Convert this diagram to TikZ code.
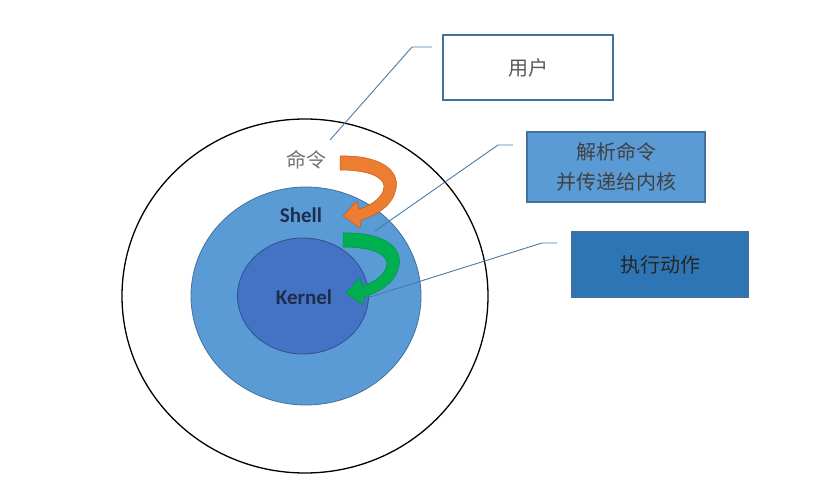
\documentclass[tikz,border=0pt]{standalone}
\usepackage{fontspec}
\usetikzlibrary{shapes.geometric}
\newfontfamily\cjk{Noto Sans CJK SC}
\newfontfamily\latin{Carlito}
\definecolor{shellblue}{HTML}{5B9BD5}
\definecolor{kernblue}{HTML}{4472C4}
\definecolor{edgeblue}{HTML}{41719C}
\definecolor{kedge}{HTML}{2F528F}
\definecolor{actblue}{HTML}{2E75B6}
\definecolor{callout}{HTML}{4A7BA6}
\definecolor{orangeA}{HTML}{ED7D31}
\definecolor{orangeB}{HTML}{C55A11}
\definecolor{greenA}{HTML}{00B050}
\definecolor{greenB}{HTML}{00944A}
\definecolor{navytext}{HTML}{1F2D4D}
\begin{document}
\begin{tikzpicture}[x=1pt,y=-1pt,
  boxstyle/.style={draw=edgeblue,line width=1.2pt,minimum width=170pt,inner sep=0pt,align=center,font=\cjk\fontsize{20}{30}\selectfont},
  layerlabel/.style={font=\latin\bfseries\fontsize{21}{22}\selectfont,text=navytext},
  calloutline/.style={draw=callout,line width=0.9pt},
  arrowshape/.pic={
    \path[pic actions]
      (340,156) .. controls (380,155) and (400,170) .. (396,189)
      .. controls (393,204) and (380,214) .. (361,220)
      -- (360,228) -- (343,216) -- (357,201) -- (359,209)
      .. controls (373,205) and (384,196) .. (384,186)
      .. controls (383,176) and (366,170) .. (340,170) -- cycle;
  }]
\useasboundingbox (0,0) rectangle (826,486);
\fill[white] (0,0) rectangle (826,486);
% circles
\node[draw=black,line width=1.3pt,ellipse,minimum width=366pt,minimum height=354pt,inner sep=0pt] (outer) at (305,296) {};
\node[draw=edgeblue,fill=shellblue,line width=0.8pt,ellipse,minimum width=230pt,minimum height=218pt,inner sep=0pt] (shell) at (306,296) {};
\node[draw=kedge,fill=kernblue,line width=0.8pt,ellipse,minimum width=131pt,minimum height=116pt,inner sep=0pt] (kernel) at (303,296) {};
% labels
\node[font=\cjk\fontsize{20}{22}\selectfont,text=black!55] (cmd) at (306,160) {命令};
\node[layerlabel] (shelltxt) at (301,215) {Shell};
\node[layerlabel] (kerntxt) at (304,297) {Kernel};
% arrows
\pic[fill=orangeA,draw=orangeB,line width=0.5pt] (arrA) at (0,0) {arrowshape};
\pic[fill=greenA,draw=greenB,line width=0.5pt] (arrB) at (3,77) {arrowshape};
% boxes
\node[boxstyle,fill=white,minimum width=170pt,minimum height=65pt,text=black!65] (user) at (528,67.5) {用户};
\node[boxstyle,fill=shellblue,minimum width=178pt,minimum height=70pt,text=black!75] (parse) at (616,167) {解析命令\\并传递给内核};
\node[boxstyle,fill=actblue,minimum width=176pt,minimum height=65pt,text=black!85] (act) at (660,264.5) {执行动作};
% callouts
\coordinate (c1) at (330,140);
\coordinate (c2) at (375,231);
\coordinate (c3) at (354,302);
\draw[calloutline] (c1) -- (412,47) -- (432,47);
\draw[calloutline] (c2) -- (498,145) -- (513,145);
\draw[calloutline] (c3) -- (542,243) -- (557,243);
\end{tikzpicture}
\end{document}
